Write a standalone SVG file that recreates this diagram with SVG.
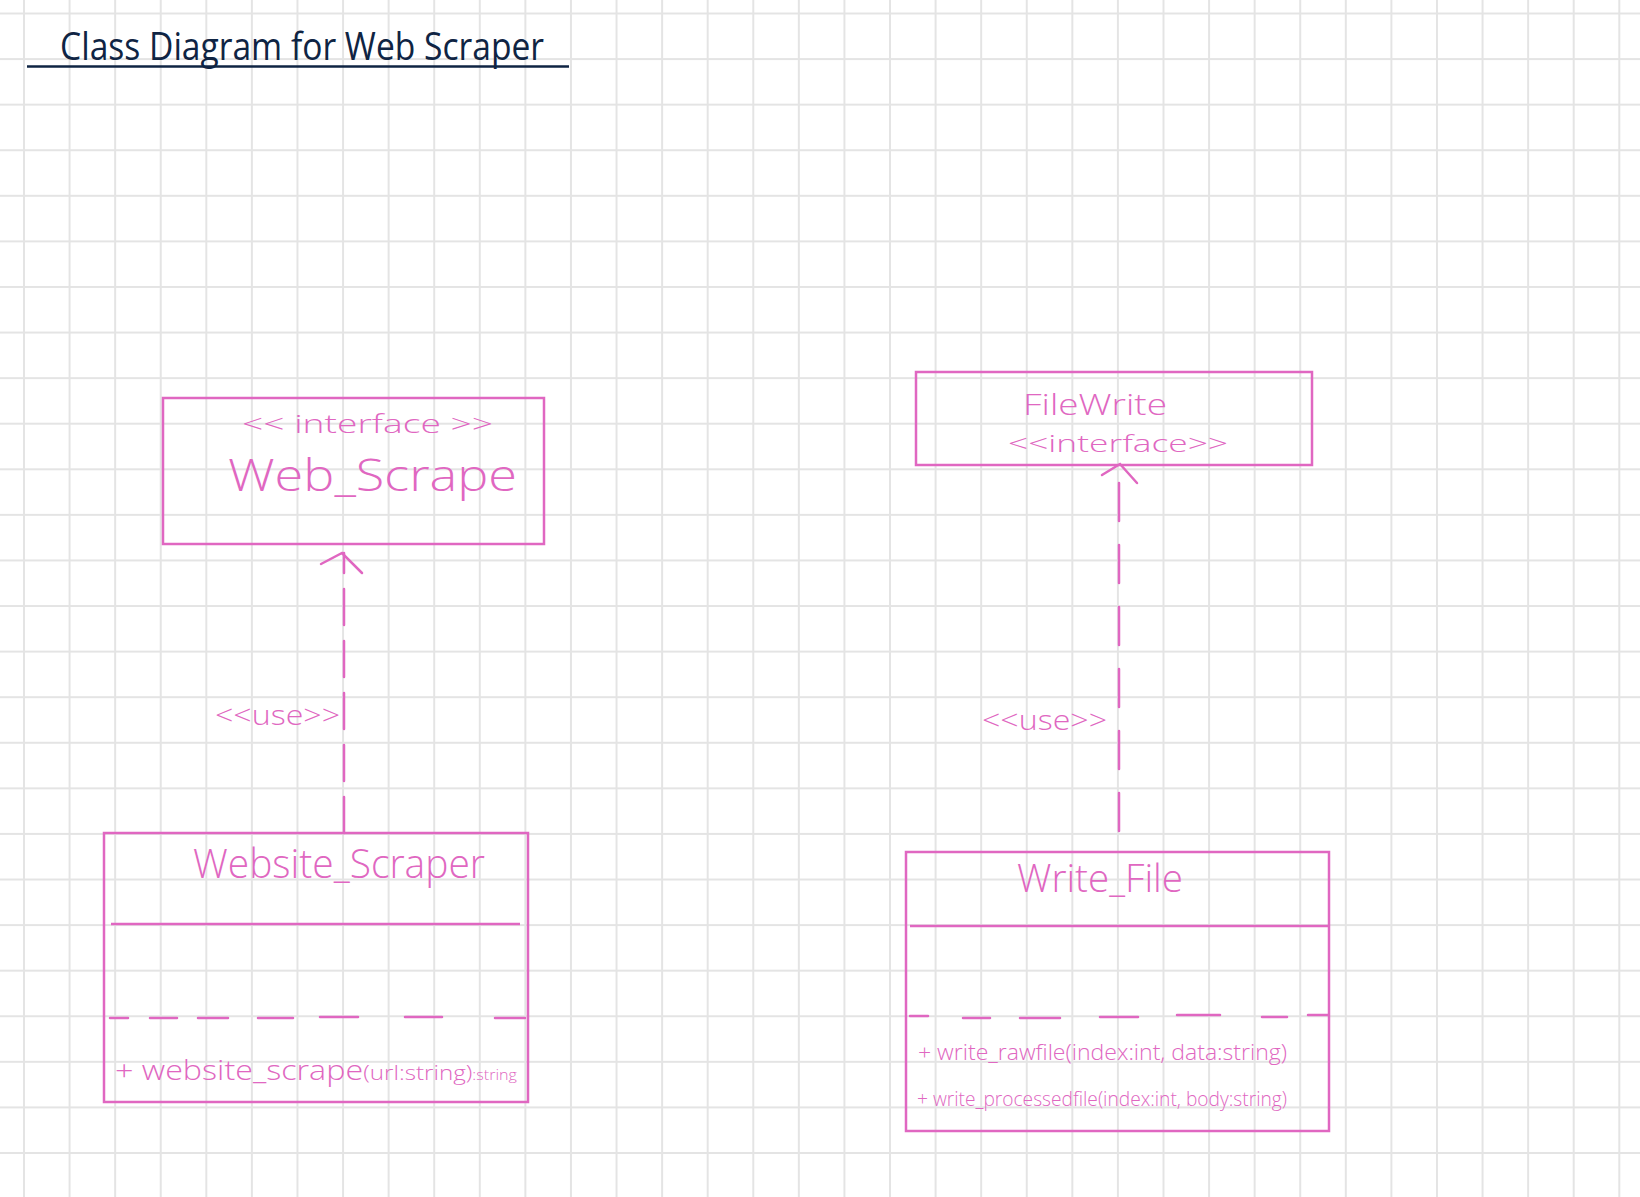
<svg xmlns="http://www.w3.org/2000/svg" width="1640" height="1197" viewBox="0 0 1640 1197">
<style>
.box{fill:none;stroke:#e067c1;stroke-width:2.5}
.div{stroke:#e067c1;stroke-width:2.5;fill:none}
.dash{stroke:#e067c1;stroke-width:2.5;fill:none;stroke-linecap:round}
.conn{stroke:#e067c1;stroke-width:2.5;fill:none;stroke-linecap:round}
.pk{fill:#e067c1;font-family:"Open Sans","DejaVu Sans",sans-serif;font-weight:300}
.ttl{fill:#0f2443;font-family:"Open Sans","DejaVu Sans",sans-serif;font-weight:400}
</style>
<defs>
<pattern id="grid" patternUnits="userSpaceOnUse" x="23" y="12.5" width="45.58" height="45.58">
<path d="M1 0V45.58M0 1H45.58" stroke="#e4e4e4" stroke-width="2" fill="none"/>
</pattern>
</defs>
<rect width="1640" height="1197" fill="#ffffff"/>
<rect width="1640" height="1197" fill="url(#grid)"/>

<g id="title">
<text class="ttl" x="60" y="60" font-size="38" textLength="484" lengthAdjust="spacingAndGlyphs">Class Diagram for Web Scraper</text>
<line x1="27" y1="66.5" x2="569" y2="66.5" stroke="#0f2443" stroke-width="2.5"/>
</g>

<g id="connectors">
<path class="conn" d="M344 833V553" stroke-dasharray="36 16"/>
<path class="conn" d="M321 564L342 553L362 573"/>
<text class="pk" x="215" y="725" font-size="28" textLength="125" lengthAdjust="spacingAndGlyphs">&lt;&lt;use&gt;&gt;</text>
<path class="conn" d="M1119 851V465" stroke-dasharray="38 24" stroke-dashoffset="-20"/>
<path class="conn" d="M1102 475L1120 464L1137 483"/>
<text class="pk" x="982" y="730" font-size="28" textLength="125" lengthAdjust="spacingAndGlyphs">&lt;&lt;use&gt;&gt;</text>
</g>

<g id="web-scrape">
<rect class="box" x="163" y="398" width="381" height="146"/>
<text class="pk" x="242" y="433" font-size="26" textLength="251" lengthAdjust="spacingAndGlyphs">&lt;&lt; interface &gt;&gt;</text>
<text class="pk" x="228" y="491" font-size="44" textLength="289" lengthAdjust="spacingAndGlyphs">Web_Scrape</text>
</g>

<g id="filewrite">
<rect class="box" x="916" y="372" width="396" height="93"/>
<text class="pk" x="1023" y="415" font-size="30" textLength="144" lengthAdjust="spacingAndGlyphs">FileWrite</text>
<text class="pk" x="1008" y="452" font-size="24" textLength="220" lengthAdjust="spacingAndGlyphs">&lt;&lt;interface&gt;&gt;</text>
</g>

<g id="website-scraper">
<rect class="box" x="104" y="833" width="424" height="269"/>
<text class="pk" x="193" y="878" font-size="40" textLength="292" lengthAdjust="spacingAndGlyphs">Website_Scraper</text>
<line class="div" x1="111" y1="924" x2="520" y2="924"/>
<path class="dash" d="M110 1018H128M150 1018H177M198 1018H228M258 1018H293M320 1017H358M405 1017H442M495 1018H525"/>
<text class="pk" x="115" y="1080" font-size="28" textLength="402" lengthAdjust="spacingAndGlyphs">+ website_scrape<tspan font-size="21">(url:string)</tspan><tspan font-size="14">:string</tspan></text>
</g>

<g id="write-file">
<rect class="box" x="906" y="852" width="423" height="279"/>
<text class="pk" x="1017" y="892" font-size="38" textLength="166" lengthAdjust="spacingAndGlyphs">Write_File</text>
<line class="div" x1="910" y1="926" x2="1329" y2="926"/>
<path class="dash" d="M910 1016H928M963 1018H990M1020 1018H1060M1100 1017H1138M1177 1015H1220M1262 1017H1287M1308 1015H1328"/>
<text class="pk" x="918" y="1060" font-size="22" textLength="369" lengthAdjust="spacingAndGlyphs">+ write_rawfile(index:int, data:string)</text>
<text class="pk" x="917" y="1106" font-size="21" textLength="370" lengthAdjust="spacingAndGlyphs">+ write_processedfile(index:int, body:string)</text>
</g>
</svg>
